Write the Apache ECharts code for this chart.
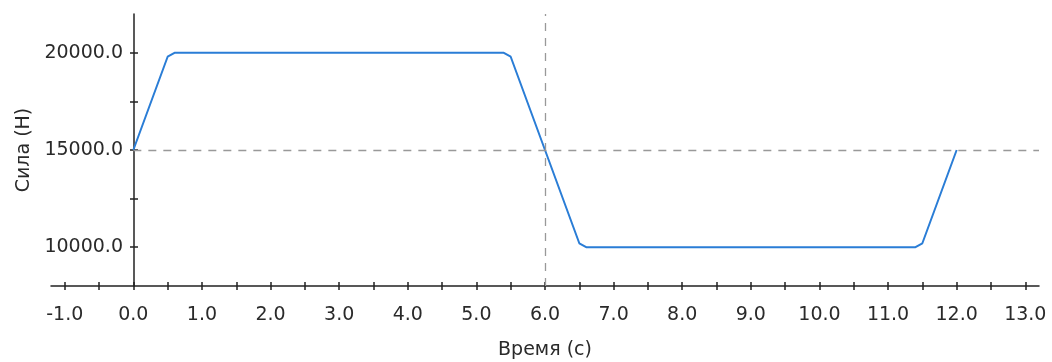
<!DOCTYPE html>
<html>
<head>
<meta charset="utf-8">
<script src="https://cdn.jsdelivr.net/npm/echarts@6/dist/echarts.min.js"></script>
<style>
  html, body { margin: 0; padding: 0; background: #fff; }
  #chart { width: 1052px; height: 362px; }
</style>
</head>
<body>
<div id="chart"></div>
<script>
// time (s) and force (N) samples
const timeValues = [0, 0.5, 0.6, 5.4, 5.5, 6.0, 6.5, 6.6, 11.4, 11.5, 12.0];
const forceValues = [15000, 19800, 20000, 20000, 19800, 15000, 10200, 10000, 10000, 10200, 15000];

const xTickValues = [-1, -0.5, 0, 0.5, 1, 1.5, 2, 2.5, 3, 3.5, 4, 4.5, 5, 5.5, 6, 6.5, 7, 7.5, 8, 8.5, 9, 9.5, 10, 10.5, 11, 11.5, 12, 12.5, 13];
const xLabelValues = [-1, 0, 1, 2, 3, 4, 5, 6, 7, 8, 9, 10, 11, 12, 13];
const yTickValues = [10000, 12500, 15000, 17500, 20000];
const yLabelValues = [10000, 15000, 20000];

const cursorX = 6.0;
const cursorY = 15000;

const chart = echarts.init(document.getElementById("chart"), null, { renderer: "canvas" });

const font = "DejaVu Sans";
const axisColor = "#222";
const textColor = "#2a2a2a";
const tickStyle = { color: axisColor, width: 1.5 };

const xBase = { type: "value", min: -1.2, max: 13.2, splitLine: { show: false } };
const yBase = { type: "value", min: 8000, max: 22000, splitLine: { show: false } };

chart.setOption({
  animation: false,
  grid: [
    // plot area
    { left: 51, right: 13, top: 14, bottom: 76, outerBoundsMode: "none" },
    // y axis sits at time = 0, so it gets its own box starting there
    { left: 134, right: 13, top: 14, bottom: 76, outerBoundsMode: "none" }
  ],
  xAxis: [
    {
      ...xBase,
      gridIndex: 0,
      name: "Время (с)",
      nameLocation: "middle",
      nameGap: 55,
      nameTextStyle: { color: textColor, fontFamily: font, fontSize: 19 },
      axisLine: { onZero: false, lineStyle: tickStyle },
      axisTick: { length: 4, lineStyle: tickStyle, customValues: xTickValues },
      axisLabel: {
        color: textColor, fontFamily: font, fontSize: 19, margin: 20,
        customValues: xLabelValues,
        formatter: (v) => Number(v).toFixed(1)
      }
    },
    {
      ...xBase,
      gridIndex: 0,
      position: "bottom",
      axisLine: { show: false, onZero: false },
      axisTick: { inside: true, length: 4, lineStyle: tickStyle, customValues: xTickValues },
      axisLabel: { show: false }
    },
    { type: "value", gridIndex: 1, min: 0, max: 1, show: false }
  ],
  yAxis: [
    { ...yBase, gridIndex: 0, show: false },
    {
      ...yBase,
      gridIndex: 1,
      position: "left",
      name: "Сила (Н)",
      nameLocation: "middle",
      nameGap: 100,
      nameTextStyle: { color: textColor, fontFamily: font, fontSize: 19 },
      axisLine: { show: true, onZero: false, lineStyle: tickStyle },
      axisTick: { show: true, length: 4, lineStyle: tickStyle, customValues: yTickValues },
      axisLabel: {
        color: textColor, fontFamily: font, fontSize: 19, margin: 11,
        customValues: yLabelValues,
        formatter: (v) => Number(v).toFixed(1)
      }
    },
    {
      ...yBase,
      gridIndex: 1,
      position: "left",
      axisLine: { show: false, onZero: false },
      axisTick: { show: true, inside: true, length: 4, lineStyle: tickStyle, customValues: yTickValues },
      axisLabel: { show: false }
    }
  ],
  series: [
    {
      type: "line",
      xAxisIndex: 0,
      yAxisIndex: 0,
      data: timeValues.map((t, i) => [t, forceValues[i]]),
      showSymbol: false,
      lineStyle: { color: "#2a7dd6", width: 2 },
      markLine: {
        silent: true,
        symbol: ["none", "none"],
        label: { show: false },
        lineStyle: { color: "#999", type: [8, 7], width: 1.3 },
        data: [
          [{ coord: [0, cursorY] }, { coord: [13.2, cursorY] }],
          [{ coord: [cursorX, 8000] }, { coord: [cursorX, 22000] }]
        ]
      }
    }
  ]
});
</script>
</body>
</html>
